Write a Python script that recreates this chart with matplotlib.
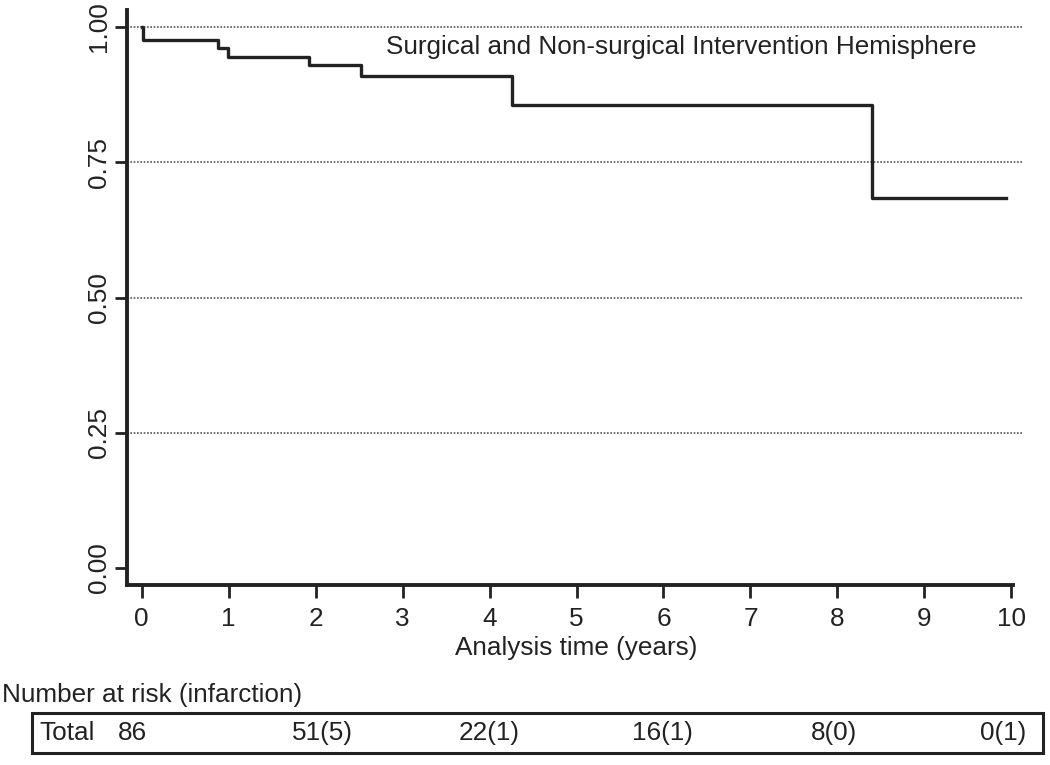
import numpy as np
import matplotlib
matplotlib.use("Agg")
import matplotlib.pyplot as plt
from matplotlib.patches import Rectangle
import matplotlib.transforms as mtransforms

plt.rcParams['font.family'] = ['Liberation Sans', 'DejaVu Sans']

# survival curve
times = [0.0, 0.02, 0.88, 0.99, 1.92, 2.52, 4.26, 8.40, 9.94]
surv = [1.0, 0.976, 0.962, 0.945, 0.929, 0.909, 0.856, 0.684, 0.684]

xticks = [0, 1, 2, 3, 4, 5, 6, 7, 8, 9, 10]
yticks = [0.0, 0.25, 0.50, 0.75, 1.00]
ylabels = ["0.00", "0.25", "0.50", "0.75", "1.00"]
gridvals = [0.25, 0.50, 0.75, 1.00]

title = "Surgical and Non-surgical Intervention Hemisphere"
risk_row = "Total"
risk_vals = ["86", "51(5)", "22(1)", "16(1)", "8(0)", "0(1)"]

W, H = 1050, 765
col = "#222222"
fs = 18.8

fig = plt.figure(figsize=(W/100, H/100), dpi=100)
ax = fig.add_axes([127/W, 1-585/H, (1022-127)/W, (585-10)/H])

for g in gridvals:
    ax.axhline(g, color="#555555", lw=1.2, ls=(0, (1, 1)), zorder=1)

ax.step(times, surv, where='post', color=col, lw=2.4, zorder=3)

ax.set_xlim(-0.167, 10.121)
ax.set_ylim(-0.0314, 1.0314)
ax.set_xticks(xticks)
ax.set_yticks(yticks)
ax.set_yticklabels(ylabels, rotation=90, va='center')
ax.tick_params(axis='both', length=9, width=2, color=col, labelsize=fs, labelcolor=col)
ax.tick_params(axis='x', pad=7)
ax.tick_params(axis='y', pad=2.5)

for s in ['top', 'right']:
    ax.spines[s].set_visible(False)
for s in ['left', 'bottom']:
    ax.spines[s].set_linewidth(2.8)
    ax.spines[s].set_color(col)
ax.spines['bottom'].set_bounds(-0.167, 10.02)

fig.text(386/W, 1-47/H, title, fontsize=fs, color=col, ha='left', va='center')

trans = mtransforms.blended_transform_factory(ax.transData, fig.transFigure)
ax.text(5, 1-648/H, "Analysis time (years)", transform=trans, fontsize=fs,
        color=col, ha='center', va='center')

fig.text(2/W, 1-695/H, "Number at risk (infarction)", fontsize=fs, color=col,
         ha='left', va='center')

box = Rectangle((32/W, 1-753/H), (1043-32)/W, (753-713)/H, transform=fig.transFigure,
                fill=False, edgecolor=col, lw=2.2)
fig.patches.append(box)

row_y = 1-733/H
fig.text(39/W, row_y, risk_row, fontsize=fs, color=col, ha='left', va='center')
right_edges = [147, 353, 520, 693, 857, 1026]
for v, xr in zip(risk_vals, right_edges):
    fig.text(xr/W, row_y, v, fontsize=fs, color=col, ha='right', va='center')

fig.savefig("out.png", dpi=100)
